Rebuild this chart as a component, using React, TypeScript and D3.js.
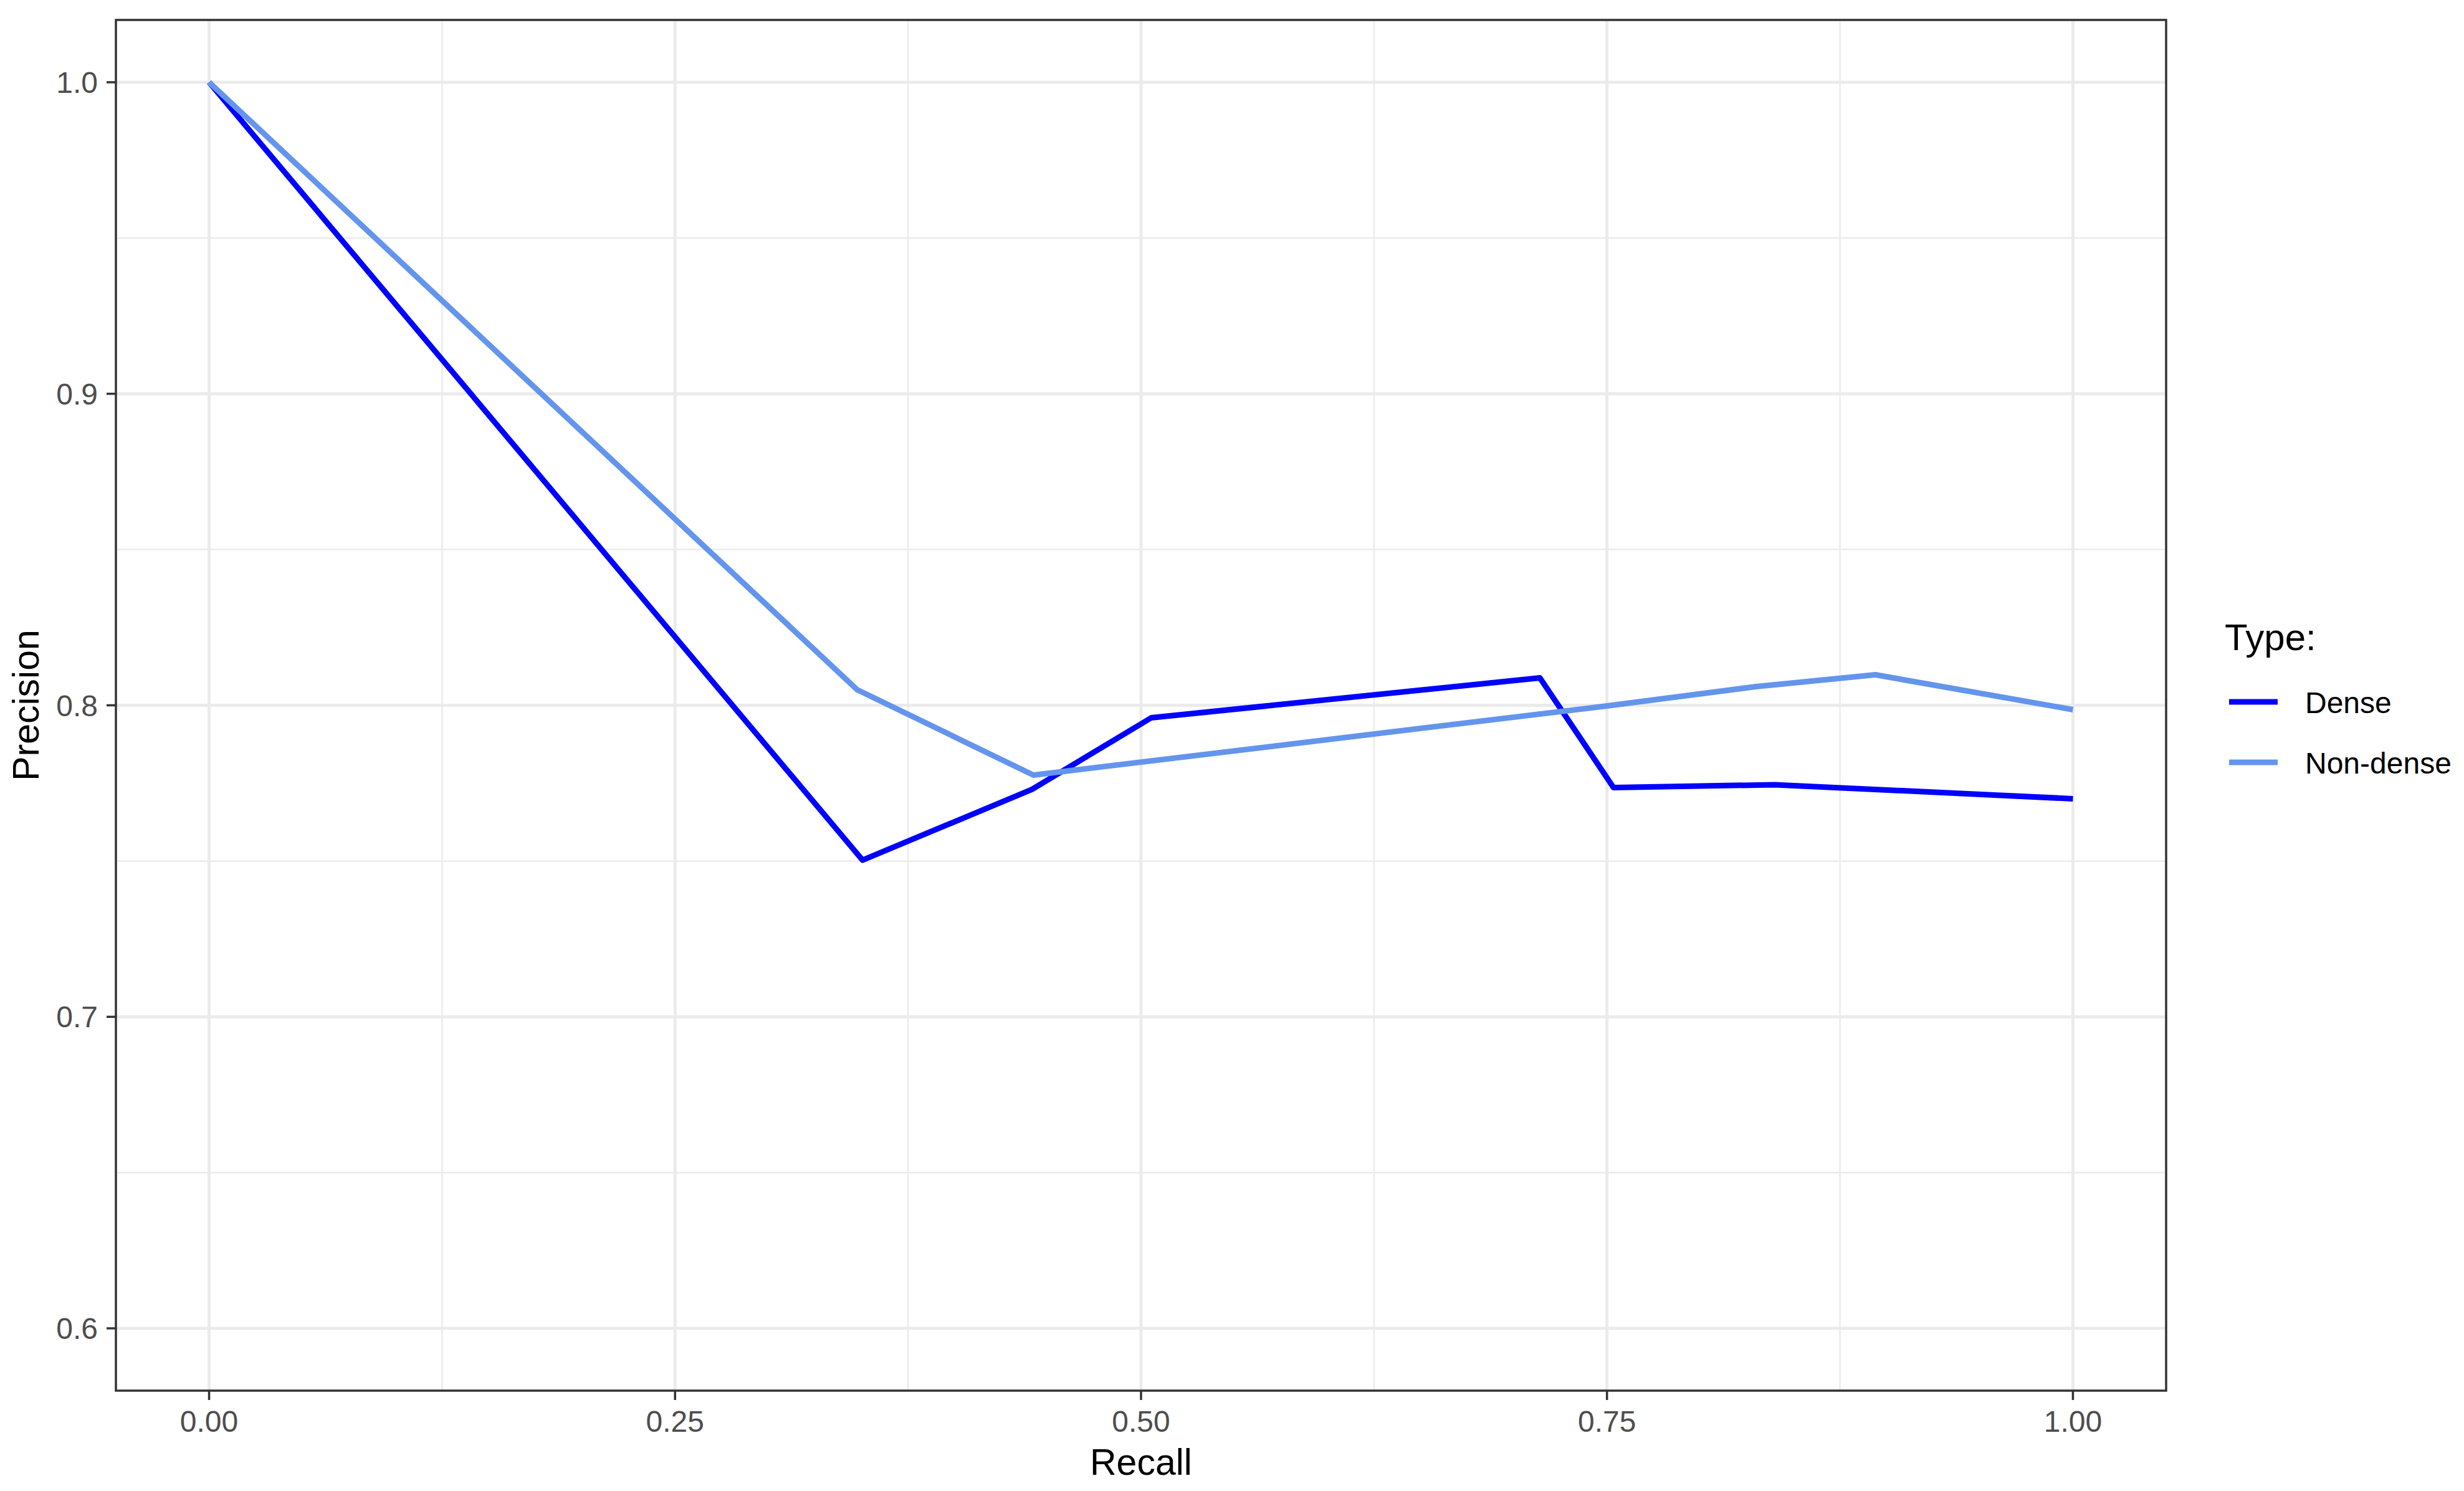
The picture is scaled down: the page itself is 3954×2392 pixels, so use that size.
import React from "react";
import * as d3 from "d3";

const denseRecall = [0.0, 0.3506, 0.4415, 0.5055, 0.714, 0.7535, 0.84, 1.0];
const densePrecision = [1.0, 0.7503, 0.773, 0.796, 0.8088, 0.7736, 0.7745, 0.770];

const nonDenseRecall = [0.0, 0.3477, 0.4423, 0.75, 0.83, 0.894, 1.0];
const nonDensePrecision = [1.0, 0.805, 0.7776, 0.7998, 0.806, 0.8098, 0.7986];

const xTicks = [0, 0.25, 0.5, 0.75, 1.0];
const xTickLabels = ["0.00", "0.25", "0.50", "0.75", "1.00"];
const xMinor = [0.125, 0.375, 0.625, 0.875];
const yTicks = [0.6, 0.7, 0.8, 0.9, 1.0];
const yTickLabels = ["0.6", "0.7", "0.8", "0.9", "1.0"];
const yMinor = [0.65, 0.75, 0.85, 0.95];

const seriesNames = ["Dense", "Non-dense"];
const seriesColors = ["#0000FF", "#6495ED"];

const W = 3954;
const H = 2392;
const panel = { left: 186, right: 3476, top: 32, bottom: 2231 };
const FONT = "Liberation Sans, Arial, sans-serif";

export default function App() {
  const x = d3.scaleLinear().domain([-0.05, 1.05]).range([panel.left, panel.right]);
  const y = d3.scaleLinear().domain([0.58, 1.02]).range([panel.bottom, panel.top]);

  const line = d3
    .line<[number, number]>()
    .x((d) => x(d[0]))
    .y((d) => y(d[1]));

  const series = [
    denseRecall.map((r, i) => [r, densePrecision[i]] as [number, number]),
    nonDenseRecall.map((r, i) => [r, nonDensePrecision[i]] as [number, number]),
  ];

  const tickColor = "#333333";
  const labelColor = "#4D4D4D";

  return (
    <svg
      width={W}
      height={H}
      style={{ position: "absolute", left: 0, top: 0, background: "#fff" }}
      fontFamily={FONT}
    >
      <rect x={0} y={0} width={W} height={H} fill="#fff" />
      {/* minor grid */}
      {xMinor.map((v) => (
        <line key={"xm" + v} x1={x(v)} x2={x(v)} y1={panel.top} y2={panel.bottom} stroke="#EBEBEB" strokeWidth={2.5} />
      ))}
      {yMinor.map((v) => (
        <line key={"ym" + v} x1={panel.left} x2={panel.right} y1={y(v)} y2={y(v)} stroke="#EBEBEB" strokeWidth={2.5} />
      ))}
      {/* major grid */}
      {xTicks.map((v) => (
        <line key={"xg" + v} x1={x(v)} x2={x(v)} y1={panel.top} y2={panel.bottom} stroke="#EBEBEB" strokeWidth={5} />
      ))}
      {yTicks.map((v) => (
        <line key={"yg" + v} x1={panel.left} x2={panel.right} y1={y(v)} y2={y(v)} stroke="#EBEBEB" strokeWidth={5} />
      ))}
      {/* lines */}
      {series.map((s, i) => (
        <path
          key={seriesNames[i]}
          d={line(s) || ""}
          fill="none"
          stroke={seriesColors[i]}
          strokeWidth={9}
          strokeLinejoin="round"
          strokeLinecap="butt"
        />
      ))}
      {/* panel border */}
      <rect
        x={panel.left}
        y={panel.top}
        width={panel.right - panel.left}
        height={panel.bottom - panel.top}
        fill="none"
        stroke={tickColor}
        strokeWidth={3.5}
      />
      {/* x ticks */}
      {xTicks.map((v, i) => (
        <g key={"xt" + v}>
          <line x1={x(v)} x2={x(v)} y1={panel.bottom} y2={panel.bottom + 15} stroke={tickColor} strokeWidth={3.5} />
          <text x={x(v)} y={2297} textAnchor="middle" fontSize={48} fill={labelColor}>
            {xTickLabels[i]}
          </text>
        </g>
      ))}
      {/* y ticks */}
      {yTicks.map((v, i) => (
        <g key={"yt" + v}>
          <line x1={panel.left - 15} x2={panel.left} y1={y(v)} y2={y(v)} stroke={tickColor} strokeWidth={3.5} />
          <text x={157} y={y(v) + 17} textAnchor="end" fontSize={48} fill={labelColor}>
            {yTickLabels[i]}
          </text>
        </g>
      ))}
      {/* axis titles */}
      <text x={(panel.left + panel.right) / 2} y={2366} textAnchor="middle" fontSize={59} fill="#000">
        Recall
      </text>
      <text
        transform={`translate(62, ${(panel.top + panel.bottom) / 2}) rotate(-90)`}
        textAnchor="middle"
        fontSize={59}
        fill="#000"
      >
        Precision
      </text>
      {/* legend */}
      <text x={3570} y={1043} fontSize={60} fill="#000">
        Type:
      </text>
      {seriesNames.map((name, i) => (
        <g key={"lg" + name}>
          <line x1={3577} x2={3655} y1={1126 + i * 97} y2={1126 + i * 97} stroke={seriesColors[i]} strokeWidth={9} />
          <text x={3699} y={1144 + i * 97} fontSize={48} fill="#000">
            {name}
          </text>
        </g>
      ))}
    </svg>
  );
}
